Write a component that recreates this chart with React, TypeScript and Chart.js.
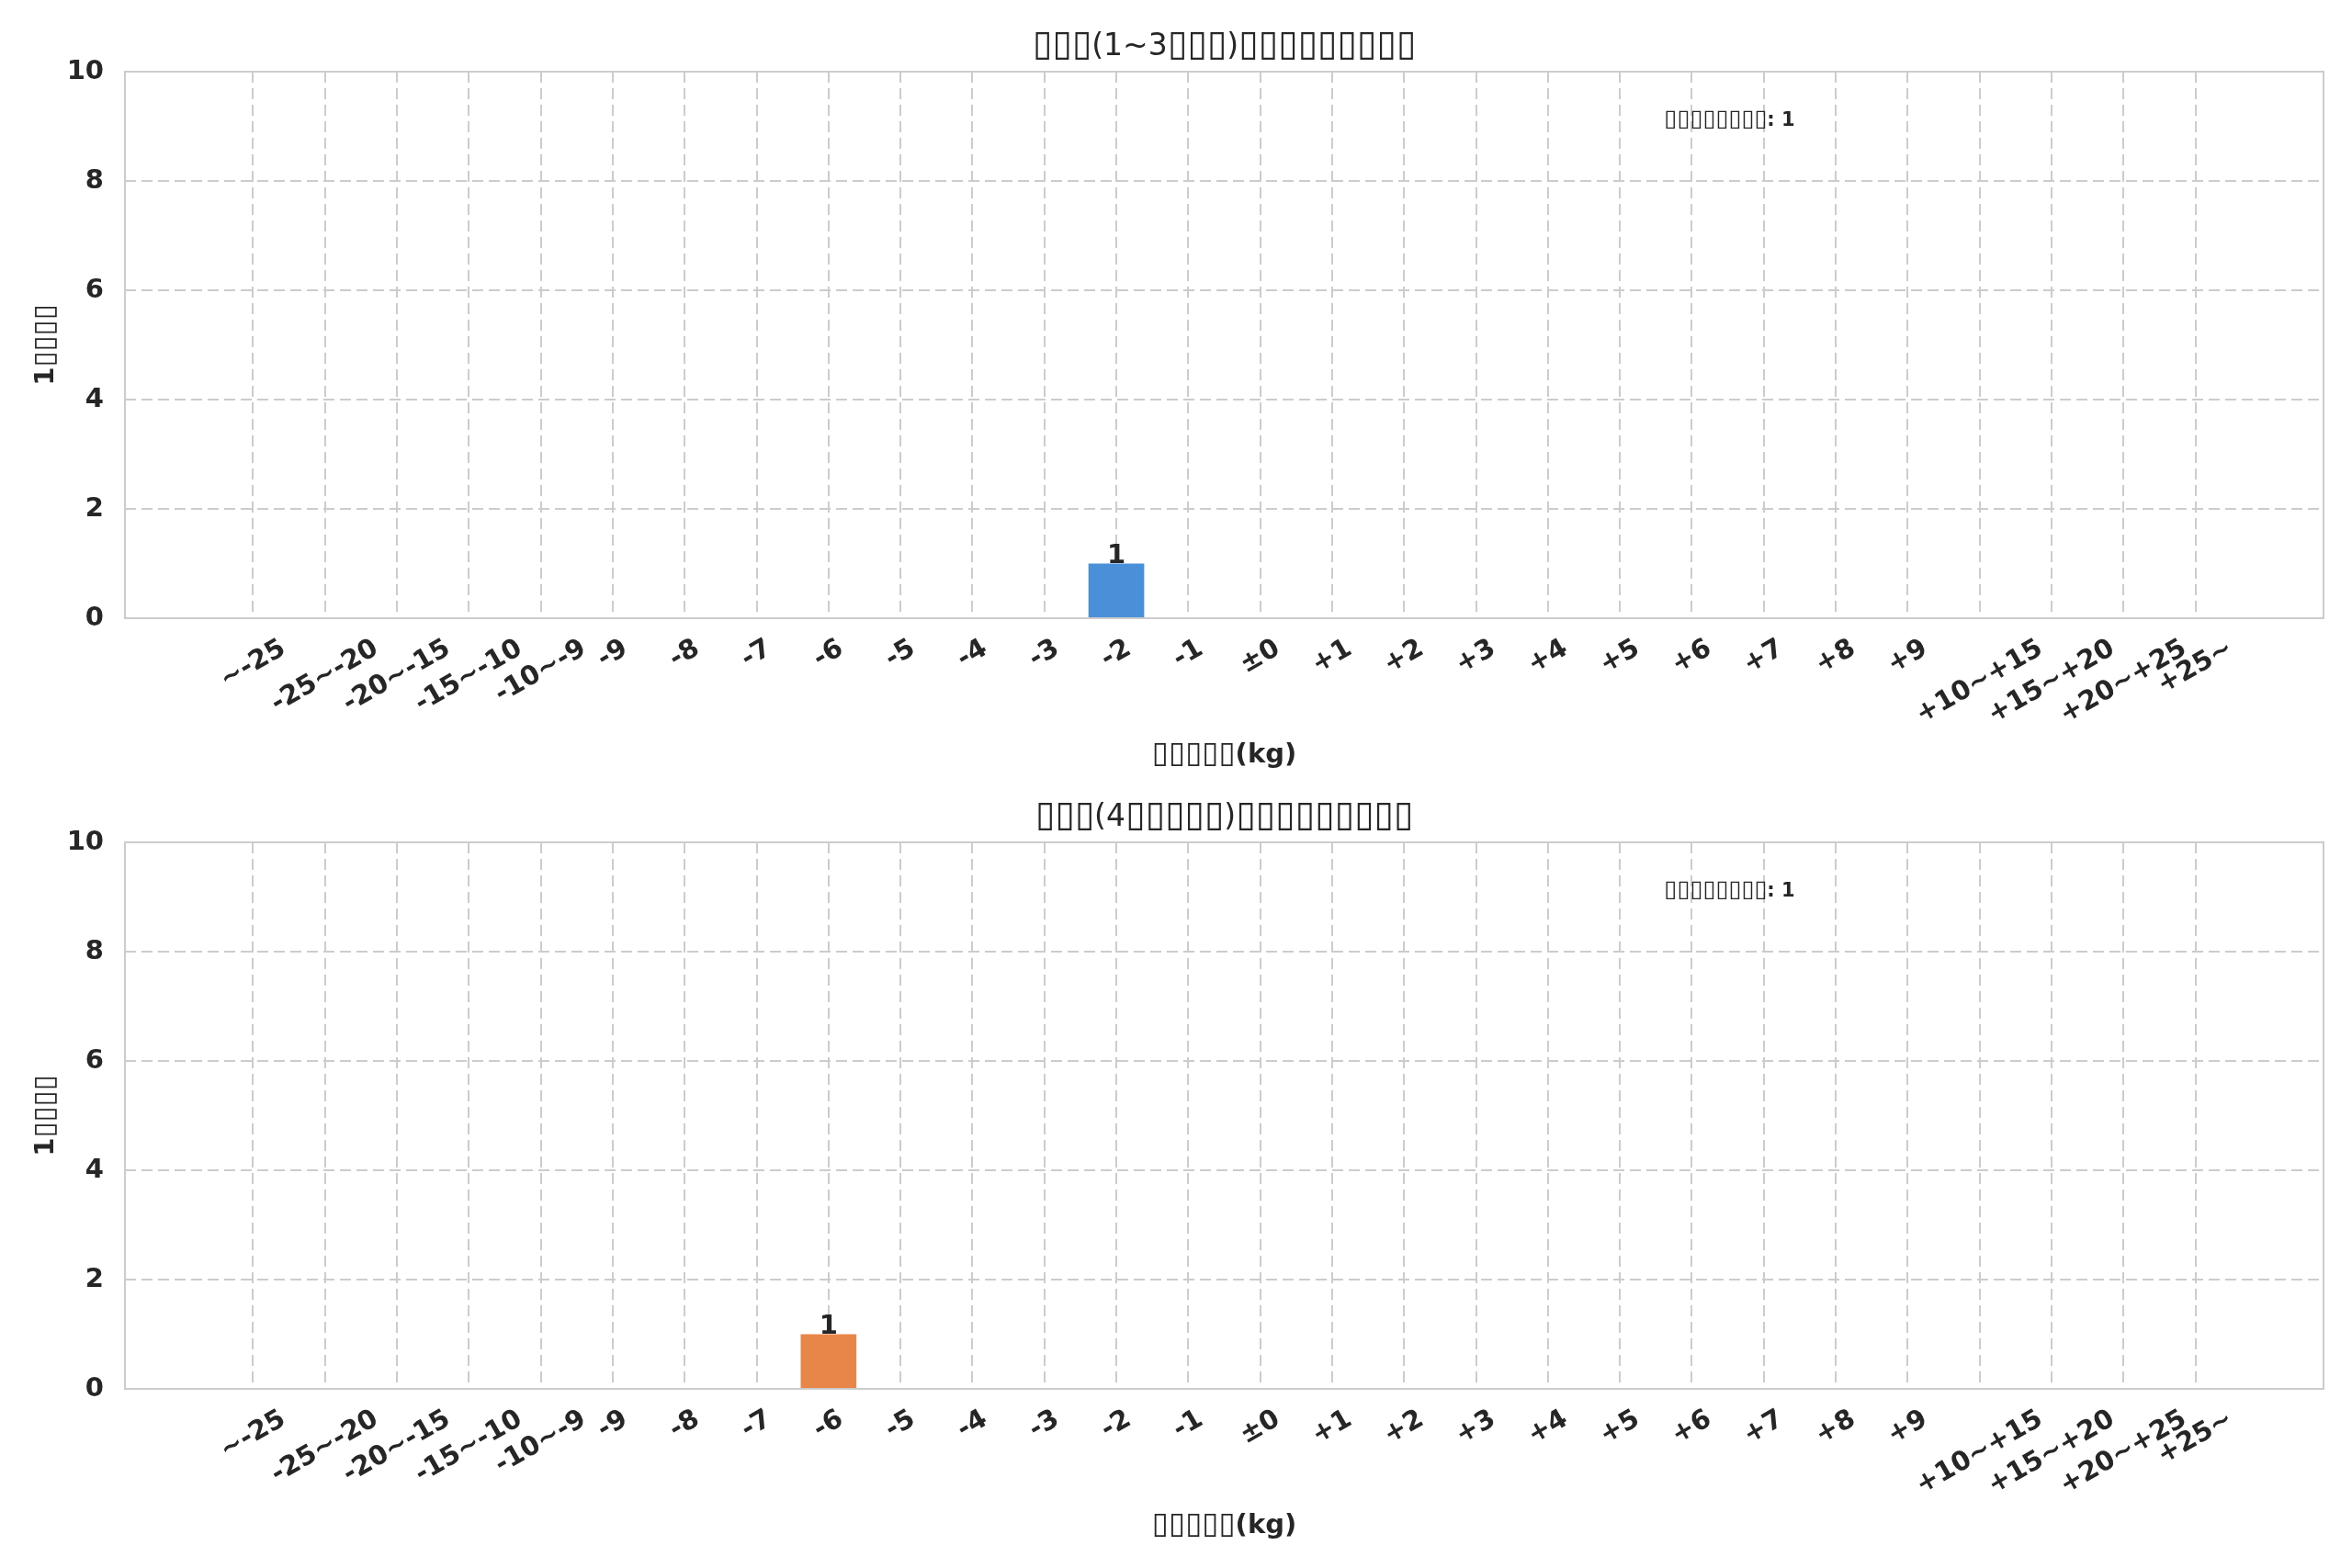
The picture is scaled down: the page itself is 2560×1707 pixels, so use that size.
import { useEffect, useRef } from 'react'
import { Chart, registerables, type Plugin } from 'chart.js'

Chart.register(...registerables)

// matplotlib could not find the Japanese glyphs, so every CJK character shows as a box
const BOX = '\u25AF'
const boxes = (n: number) => BOX.repeat(n)

const CATEGORIES = [
  '~-25', '-25~-20', '-20~-15', '-15~-10', '-10~-9',
  '-9', '-8', '-7', '-6', '-5', '-4', '-3', '-2', '-1', '±0',
  '+1', '+2', '+3', '+4', '+5', '+6', '+7', '+8', '+9',
  '+10~+15', '+15~+20', '+20~+25', '+25~',
]

const SHORT_COUNTS = [0, 0, 0, 0, 0, 0, 0, 0, 0, 0, 0, 0, 1, 0, 0, 0, 0, 0, 0, 0, 0, 0, 0, 0, 0, 0, 0, 0]
const LONG_COUNTS  = [0, 0, 0, 0, 0, 0, 0, 0, 1, 0, 0, 0, 0, 0, 0, 0, 0, 0, 0, 0, 0, 0, 0, 0, 0, 0, 0, 0]

const SHORT_TITLE = `${boxes(3)}(1~3${boxes(3)})${boxes(9)}`
const LONG_TITLE  = `${boxes(3)}(4${boxes(5)})${boxes(9)}`
const X_LABEL = `${boxes(5)}(kg)`
const Y_LABEL = `1${boxes(4)}`
const NOTE_LABEL = `${boxes(8)}: `

const Y_MIN = 0
const Y_MAX = 10
const Y_STEP = 2

const BLUE   = '#4a90d9'
const ORANGE = '#e8864a'
const TEXT   = '#262626'
const GRID   = '#cccccc'
const FONT   = "'DejaVu Sans', sans-serif"

const W = 2560
const H = 853

// draws text where the box runs use their own (bigger, regular) font
function drawMixed(
  ctx: CanvasRenderingContext2D,
  text: string,
  x: number,
  y: number,
  align: 'left' | 'center',
  font: string,
  boxSize: number,
  boxDy: number,
) {
  const boxFont = `${boxSize}px ${FONT}`
  const runs = text.split(/(\u25AF+)/).filter(Boolean)
  const widths = runs.map((r) => {
    ctx.font = r.startsWith(BOX) ? boxFont : font
    return ctx.measureText(r).width
  })
  const total = widths.reduce((a, b) => a + b, 0)
  let cx = align === 'center' ? x - total / 2 : x
  ctx.textAlign = 'left'
  ctx.textBaseline = 'alphabetic'
  runs.forEach((r, i) => {
    const isBox = r.startsWith(BOX)
    ctx.font = isBox ? boxFont : font
    ctx.fillText(r, cx, y + (isBox ? boxDy : 0))
    cx += widths[i]
  })
}

interface PanelProps {
  title: string
  counts: number[]
  color: string
  top: number
}

function Panel({ title, counts, color, top }: PanelProps) {
  const canvasRef = useRef<HTMLCanvasElement>(null)

  useEffect(() => {
    const canvas = canvasRef.current
    if (!canvas) return
    Chart.getChart(canvas)?.destroy()

    const decorations: Plugin<'bar'> = {
      id: 'decorations',
      afterDraw(chart) {
        const { ctx, chartArea: area } = chart
        const x = chart.scales.x
        const midX = (area.left + area.right) / 2
        ctx.save()
        ctx.fillStyle = TEXT

        // frame
        ctx.strokeStyle = GRID
        ctx.lineWidth = 2
        ctx.strokeRect(area.left, area.top, area.right - area.left, area.bottom - area.top)

        // rotated x tick labels, centred under their tick like matplotlib
        ctx.font = `bold 29px ${FONT}`
        const ang = Math.PI / 6
        CATEGORIES.forEach((label, i) => {
          const px = x.getPixelForValue(i)
          const w = ctx.measureText(label).width
          const h = 28
          const boxH = w * Math.sin(ang) + h * Math.cos(ang)
          ctx.save()
          ctx.translate(px, area.bottom + 19 + boxH / 2)
          ctx.rotate(-ang)
          ctx.textAlign = 'center'
          ctx.textBaseline = 'middle'
          ctx.fillText(label, 0, 0)
          ctx.restore()
        })

        // bar value labels
        ctx.font = `bold 29px ${FONT}`
        ctx.textAlign = 'center'
        ctx.textBaseline = 'alphabetic'
        const meta = chart.getDatasetMeta(0)
        meta.data.forEach((bar, i) => {
          if (counts[i] > 0) ctx.fillText(String(counts[i]), bar.x, bar.y - 1)
        })

        // title
        drawMixed(ctx, title, midX, 60, 'center', `33px ${FONT}`, 39, 0)

        // x axis title
        drawMixed(ctx, X_LABEL, midX, 830, 'center', `bold 29px ${FONT}`, 33, 0)

        // y axis title
        ctx.save()
        ctx.translate(49, (area.top + area.bottom) / 2)
        ctx.rotate(-Math.PI / 2)
        drawMixed(ctx, Y_LABEL, 0, 9, 'center', `bold 29px ${FONT}`, 31, 0)
        ctx.restore()

        // total count note
        const total = counts.reduce((a, b) => a + b, 0)
        drawMixed(
          ctx,
          NOTE_LABEL + total,
          area.left + 0.7 * (area.right - area.left),
          area.top + 0.099 * (area.bottom - area.top),
          'left',
          `bold 21px ${FONT}`,
          25.5,
          0,
        )
        ctx.restore()
      },
    }

    const chart = new Chart(canvas, {
      type: 'bar',
      data: {
        datasets: [{
          data: counts.map((v, i) => ({ x: i, y: v })),
          backgroundColor: color,
          borderWidth: 0,
          categoryPercentage: 1,
          barPercentage: 0.775,
        }],
      },
      options: {
        responsive: false,
        devicePixelRatio: 1,
        animation: false,
        layout: { padding: { top: 78, right: 31, bottom: 0, left: 0 } },
        plugins: { legend: { display: false }, tooltip: { enabled: false }, title: { display: false } },
        scales: {
          x: {
            type: 'linear',
            offset: false,
            min: -1.78,
            max: 28.78,
            afterBuildTicks: (scale) => {
              scale.ticks = CATEGORIES.map((_, i) => ({ value: i }))
            },
            afterFit: (scale) => { scale.height = H - 673 },
            ticks: { display: false },
            grid: { color: GRID, lineWidth: 2, drawTicks: false, offset: false },
            border: { display: false, dash: [12, 6] },
          },
          y: {
            min: Y_MIN,
            max: Y_MAX,
            afterFit: (scale) => { scale.width = 136 },
            ticks: {
              stepSize: Y_STEP,
              padding: 23,
              color: TEXT,
              font: { family: FONT, size: 29, weight: 'bold' },
            },
            grid: { color: GRID, lineWidth: 2, drawTicks: false },
            border: { display: false, dash: [12, 6] },
          },
        },
      },
      plugins: [decorations],
    })
    return () => chart.destroy()
  }, [title, counts, color])

  return (
    <canvas
      ref={canvasRef}
      width={W}
      height={H}
      style={{ position: 'absolute', left: 0, top, width: W, height: H }}
    />
  )
}

export default function App() {
  return (
    <div style={{ position: 'absolute', left: 0, top: 0, width: W, height: 1707, background: '#fff' }}>
      <Panel title={SHORT_TITLE} counts={SHORT_COUNTS} color={BLUE} top={0} />
      <Panel title={LONG_TITLE} counts={LONG_COUNTS} color={ORANGE} top={839} />
    </div>
  )
}
